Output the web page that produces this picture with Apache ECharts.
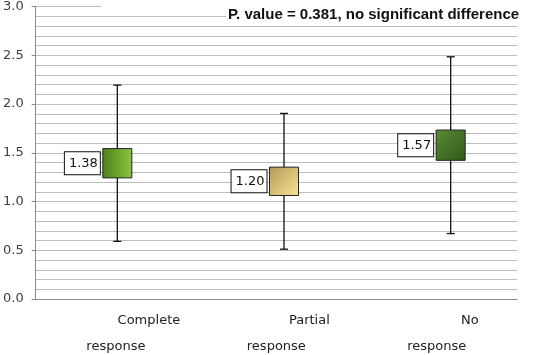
<!DOCTYPE html>
<html>
<head>
<meta charset="utf-8">
<script src="https://cdn.jsdelivr.net/npm/echarts@6/dist/echarts.min.js"></script>
<style>
  html, body { margin: 0; padding: 0; background: #fff; }
  #chart { width: 540px; height: 355px; }
</style>
</head>
<body>
<div id="chart"></div>
<script>
// data
const groups = ['Complete response', 'Partial response', 'No response'];
const means = [1.38, 1.20, 1.57];
const boxLow = [1.24, 1.06, 1.42];
const boxHigh = [1.54, 1.35, 1.73];
const whiskerLow = [0.59, 0.51, 0.67];
const whiskerHigh = [2.19, 1.90, 2.48];
const yTicks = [0, 0.5, 1.0, 1.5, 2.0, 2.5, 3.0];
const titleText = 'P. value = 0.381, no significant difference';

// box fills, dark -> light
const boxColors = [
  ['#4a7f1c', '#8dc83e'],
  ['#b39a55', '#f7e496'],
  ['#5b8c37', '#2f5716']
];

const chart = echarts.init(document.getElementById('chart'));

const seriesData = groups.map((g, i) => [i, whiskerLow[i], boxLow[i], boxHigh[i], whiskerHigh[i], means[i]]);

function renderBox(params, api) {
  const i = api.value(0);
  const x = api.coord([i, 0])[0];
  const yLo = api.coord([i, api.value(1)])[1];
  const yQ1 = api.coord([i, api.value(2)])[1];
  const yQ3 = api.coord([i, api.value(3)])[1];
  const yHi = api.coord([i, api.value(4)])[1];
  const half = 14.5;
  const cap = 4;
  const c = boxColors[i];
  const grad = i === 1
    ? new echarts.graphic.LinearGradient(0, 0, 1, 1, [{ offset: 0, color: c[0] }, { offset: 1, color: c[1] }])
    : new echarts.graphic.LinearGradient(0, 0, 1, i === 2 ? 1 : 0, [{ offset: 0, color: c[0] }, { offset: 1, color: c[1] }]);
  const line = { stroke: '#111', lineWidth: 1.3 };
  return {
    type: 'group',
    children: [
      { type: 'line', shape: { x1: x, y1: yHi, x2: x, y2: yLo }, style: line },
      { type: 'line', shape: { x1: x - cap, y1: yHi, x2: x + cap, y2: yHi }, style: line },
      { type: 'line', shape: { x1: x - cap, y1: yLo, x2: x + cap, y2: yLo }, style: line },
      {
        type: 'rect',
        shape: { x: x - half, y: yQ3, width: half * 2, height: yQ1 - yQ3 },
        style: { fill: grad, stroke: '#222', lineWidth: 1 }
      },
      {
        type: 'text',
        x: x - half - 3,
        y: (yQ1 + yQ3) / 2,
        style: {
          text: api.value(5).toFixed(2),
          align: 'right',
          verticalAlign: 'middle',
          fontFamily: 'DejaVu Sans',
          fontSize: 13,
          fill: '#111',
          backgroundColor: '#fff',
          borderColor: '#111',
          borderWidth: 1,
          padding: [5, 2, 4, 4]
        }
      }
    ]
  };
}

chart.setOption({
  backgroundColor: '#fff',
  animation: false,
  title: {
    text: titleText,
    left: 226,
    top: 5,
    padding: [2, 4, 2, 2],
    backgroundColor: '#fff',
    textStyle: { fontFamily: 'Liberation Sans', fontWeight: 'bold', fontSize: 15, color: '#111' }
  },
  graphic: [
    { type: 'rect', left: 101, top: 0, shape: { width: 434, height: 13 }, style: { fill: '#fff' }, z: 5 }
  ],
  grid: [
    { left: 34, right: 23, top: 6, bottom: 56 },
    { left: 34, right: 6, top: 6, bottom: 56 }
  ],
  xAxis: [
    {
      type: 'category',
      gridIndex: 0,
      data: groups,
      axisLine: { lineStyle: { color: '#8a8a8a', width: 1 } },
      axisTick: { length: 5, lineStyle: { color: '#8a8a8a' } },
      axisLabel: {
        margin: 9,
        interval: 0,
        formatter: v => {
          const parts = v.split(' ');
          return '{a|' + parts[0] + '}\n{b|' + parts[1] + '}';
        },
        rich: {
          a: { fontFamily: 'DejaVu Sans', fontSize: 13, color: '#222', lineHeight: 26, padding: [0, 0, 0, 66] },
          b: { fontFamily: 'DejaVu Sans', fontSize: 13, color: '#222', lineHeight: 26 }
        }
      }
    },
    { type: 'category', gridIndex: 1, data: groups, show: false }
  ],
  yAxis: [
    {
      type: 'value',
      gridIndex: 0,
      min: yTicks[0],
      max: yTicks[yTicks.length - 1],
      interval: 0.5,
      axisLine: { show: true, lineStyle: { color: '#8a8a8a' } },
      axisTick: { show: true, length: 4, lineStyle: { color: '#8a8a8a' } },
      axisLabel: {
        margin: 12,
        fontFamily: 'DejaVu Sans',
        fontSize: 13,
        color: '#404040',
        formatter: v => v.toFixed(1)
      },
      splitLine: { lineStyle: { color: '#bdbdbd', width: 1 } },
      minorTick: { show: false, splitNumber: 5 },
      minorSplitLine: { show: true, lineStyle: { color: '#bdbdbd', width: 1 } }
    },
    { type: 'value', gridIndex: 1, min: 0, max: 3, show: false, splitLine: { show: false } }
  ],
  series: [
    {
      type: 'custom',
      xAxisIndex: 1,
      yAxisIndex: 1,
      renderItem: renderBox,
      data: seriesData,
      z: 3
    }
  ]
});
</script>
</body>
</html>
